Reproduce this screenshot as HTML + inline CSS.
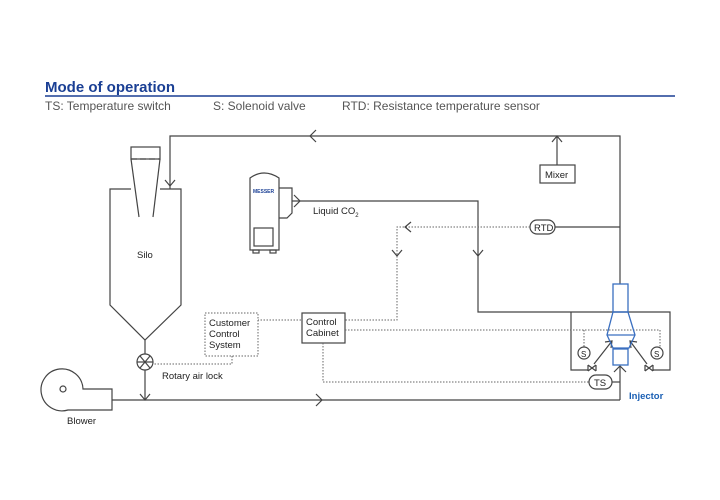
<!DOCTYPE html>
<html><head><style>body{margin:0;background:#fff}svg{display:block}text{font-family:"Liberation Sans",sans-serif}</style></head><body>
<svg width="720" height="500" viewBox="0 0 720 500" xmlns="http://www.w3.org/2000/svg">
<text x="45" y="92" font-size="15" font-weight="bold" fill="#1a3f94">Mode of operation</text>
<line x1="45" y1="96" x2="675" y2="96" stroke="#1a3f94" stroke-width="1.5"/>
<text x="45" y="110" font-size="12" fill="#555">TS: Temperature switch</text>
<text x="213" y="110" font-size="12" fill="#555">S: Solenoid valve</text>
<text x="342" y="110" font-size="12" fill="#555">RTD: Resistance temperature sensor</text>
<g fill="none" stroke="#444" stroke-width="1.2">
<polyline points="170,189 170,136 620,136 620,284"/>
<polyline points="316,130 310,136 316,142"/>
<polyline points="165,180 170,186 175,180"/>
<rect x="540" y="165" width="35" height="18"/>
<line x1="557" y1="165" x2="557" y2="136"/>
<polyline points="552,142 557,136 562,142"/>
<rect x="131" y="147" width="29" height="12"/>
<line x1="131" y1="159" x2="160" y2="159" stroke-dasharray="6,3"/>
<line x1="131" y1="159" x2="139" y2="217"/><line x1="160" y1="159" x2="153" y2="217"/>
<polyline points="131,189 110,189 110,305 145,340 181,305 181,189 160,189"/>
<line x1="145" y1="340" x2="145" y2="354"/>
<circle cx="145" cy="362" r="8"/>
<line x1="137" y1="362" x2="153" y2="362"/><line x1="140" y1="356" x2="150" y2="368"/><line x1="150" y1="356" x2="140" y2="368"/>
<line x1="145" y1="370" x2="145" y2="400"/>
<polyline points="140,394 145,400 150,394"/>
<path d="M112,389 L83,389 A21,21 0 1 0 68,410 L112,410 Z"/>
<circle cx="63" cy="389" r="3"/>
<line x1="112" y1="400" x2="620" y2="400"/>
<polyline points="316,394 322,400 316,406"/>
<line x1="620" y1="400" x2="620" y2="366"/>
<polyline points="614,372 620,366 626,372"/>
<path d="M250,250 L250,178 Q264,168 279,178 L279,250 Z"/>
<path d="M279,188 L292,188 L292,213 L287,218 L279,218"/>
<rect x="254" y="228" width="19" height="18"/>
<rect x="253" y="250" width="6" height="3"/><rect x="270" y="250" width="6" height="3"/>
<polyline points="292,201 478,201 478,312 670,312 670,370 653,370"/>
<polyline points="294,195 300,201 294,207"/>
<polyline points="473,250 478,256 483,250"/>
<polyline points="571,312 571,370 588,370"/>
<line x1="555" y1="227" x2="620" y2="227"/>
<rect x="530" y="220" width="25" height="14" rx="7"/>
<rect x="302" y="313" width="43" height="30"/>
<circle cx="584" cy="353" r="6"/><circle cx="657" cy="353" r="6"/>
<path d="M588,365 L596,371 M588,371 L596,365 M588,365 L588,371 M596,365 L596,371"/>
<path d="M645,365 L653,371 M645,371 L653,365 M645,365 L645,371 M653,365 L653,371"/>
<line x1="594" y1="364" x2="612" y2="341"/><polyline points="605,342 612,341 611,348"/>
<line x1="647" y1="364" x2="630" y2="341"/><polyline points="631,348 630,341 637,342"/>
<rect x="589" y="375" width="23" height="14" rx="7"/>
<line x1="612" y1="382" x2="620" y2="382"/>
</g>
<g fill="none" stroke="#666" stroke-width="1" stroke-dasharray="1.5,1.5">
<polyline points="530,227 397,227 397,320 345,320"/>
<polyline points="301,320 258,320"/>
<rect x="205" y="313" width="53" height="43"/>
<polyline points="232,356 232,364 153,364"/>
<polyline points="345,330 660,330 660,347"/>
<line x1="584" y1="330" x2="584" y2="347"/>
<polyline points="323,343 323,382 589,382"/>
</g>
<g fill="none" stroke="#444" stroke-width="1.2">
<polyline points="411,222 405,227 411,232"/>
<polyline points="392,250 397,256 402,250"/>
</g>
<g fill="none" stroke="#3a6fc0" stroke-width="1.3">
<rect x="613" y="284" width="15" height="28"/>
<path d="M613,312 L607,335 L613,348 L629,348 L635,335 L628,312 Z"/>
<line x1="607" y1="335" x2="635" y2="335"/>
<rect x="613" y="349" width="15" height="16"/>
</g>
<g font-size="9.5" fill="#222">
<text x="137" y="258">Silo</text>
<text x="313" y="214">Liquid CO<tspan font-size="6" dy="3">2</tspan></text>
<text x="545" y="178">Mixer</text>
<text x="534" y="231">RTD</text>
<text x="209" y="326">Customer</text><text x="209" y="337">Control</text><text x="209" y="348">System</text>
<text x="306" y="325">Control</text><text x="306" y="336">Cabinet</text>
<text x="162" y="379">Rotary air lock</text>
<text x="67" y="424">Blower</text>
<text x="594" y="386">TS</text>
<text x="581" y="357" font-size="8">S</text><text x="654" y="357" font-size="8">S</text>
<text x="629" y="399" fill="#1a5fb4" font-weight="bold">Injector</text>
<text x="253" y="193" font-size="5" fill="#1a3f94" font-weight="bold">MESSER</text>
</g>
</svg>
</body></html>
